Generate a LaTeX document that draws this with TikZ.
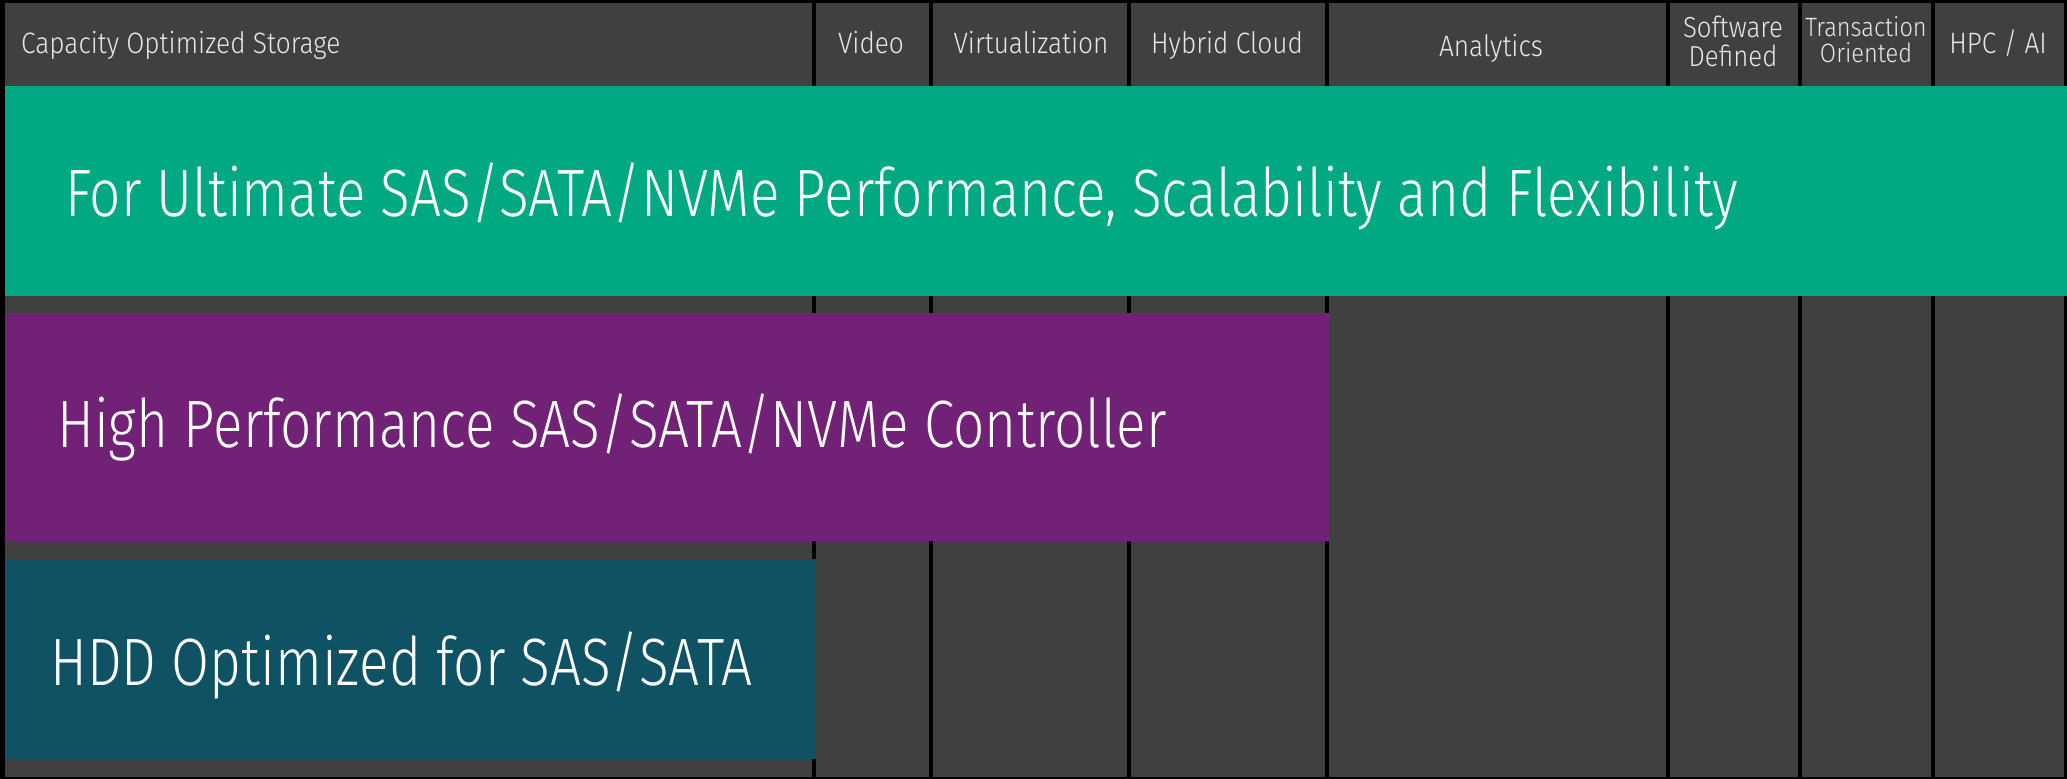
\documentclass[tikz,border=0pt]{standalone}
\usepackage{fontspec}
\newfontfamily\headfont{Fira Sans Light}[FakeStretch=0.89]
\newfontfamily\barfont{Fira Sans Light}[FakeStretch=0.82]
\definecolor{cellgrey}{HTML}{404040}
\definecolor{hpegreen}{HTML}{01A982}
\definecolor{hpepurple}{HTML}{712176}
\definecolor{hpeteal}{HTML}{0E5264}
\definecolor{headtext}{HTML}{E8E8E8}
\tikzset{
  column/.style={fill=cellgrey},
  bar/.style={draw=none, inner sep=0pt, anchor=north west, minimum height=#1},
  headlabel/.style={text=headtext, inner sep=0pt, font=\headfont\fontsize{29.5}{29.5}\selectfont},
  twoline/.style={text=headtext, inner sep=0pt, align=center},
  barlabel/.style={text=white, inner sep=0pt, anchor=base west, font=\barfont\fontsize{67}{67}\selectfont},
}
\begin{document}
\begin{tikzpicture}[x=1pt,y=-1pt]
  % black background fixes the page size
  \fill[black] (0,0) rectangle (2067,779);
  \useasboundingbox (0,0) rectangle (2067,779);

  % grey columns
  \fill[column] (5,3)    rectangle (812,777);
  \fill[column] (816,3)  rectangle (929,777);
  \fill[column] (933,3)  rectangle (1127,777);
  \fill[column] (1131,3) rectangle (1325,777);
  \fill[column] (1329,3) rectangle (1666,777);
  \fill[column] (1670,3) rectangle (1798,777);
  \fill[column] (1802,3) rectangle (1931,777);
  \fill[column] (1935,3) rectangle (2064,777);

  % column headings
  \node[headlabel, anchor=base west] (capacity) at (21,53.5) {Capacity Optimized Storage};
  \node[headlabel, anchor=base] (video)   at (871,53.5) {Video};
  \node[headlabel, anchor=base] (virt)    at (1031,53.5) {Virtualization};
  \node[headlabel, anchor=base] (hybrid)  at (1227,53.5) {Hybrid Cloud};
  \node[headlabel, anchor=base] (analytics) at (1491,56) {Analytics};
  \node[headlabel, anchor=base] (hpc)     at (1998,53.5) {HPC / AI};
  \node[twoline, anchor=center, font=\headfont\fontsize{29}{29}\selectfont] (sds) at (1733,41.5) {Software\\Defined};
  \node[twoline, anchor=center, font=\headfont\fontsize{26.5}{26}\selectfont] (trans) at (1866,39.5) {Transaction\\Oriented};

  % product bars
  \node[bar=210, fill=hpegreen,  minimum width=2062] (ultimatebar) at (5,86) {};
  \node[bar=228, fill=hpepurple, minimum width=1324] (perfbar)     at (5,313) {};
  \node[bar=200, fill=hpeteal,   minimum width=811]  (hddbar)      at (5,559) {};

  \node[barlabel] (ultimate) at (65,216) {For Ultimate SAS/SATA/NVMe Performance, Scalability and Flexibility};
  \node[barlabel] (perf)     at (57,447) {High Performance SAS/SATA/NVMe Controller};
  \node[barlabel] (hdd)      at (50,685) {HDD Optimized for SAS/SATA};
\end{tikzpicture}
\end{document}
